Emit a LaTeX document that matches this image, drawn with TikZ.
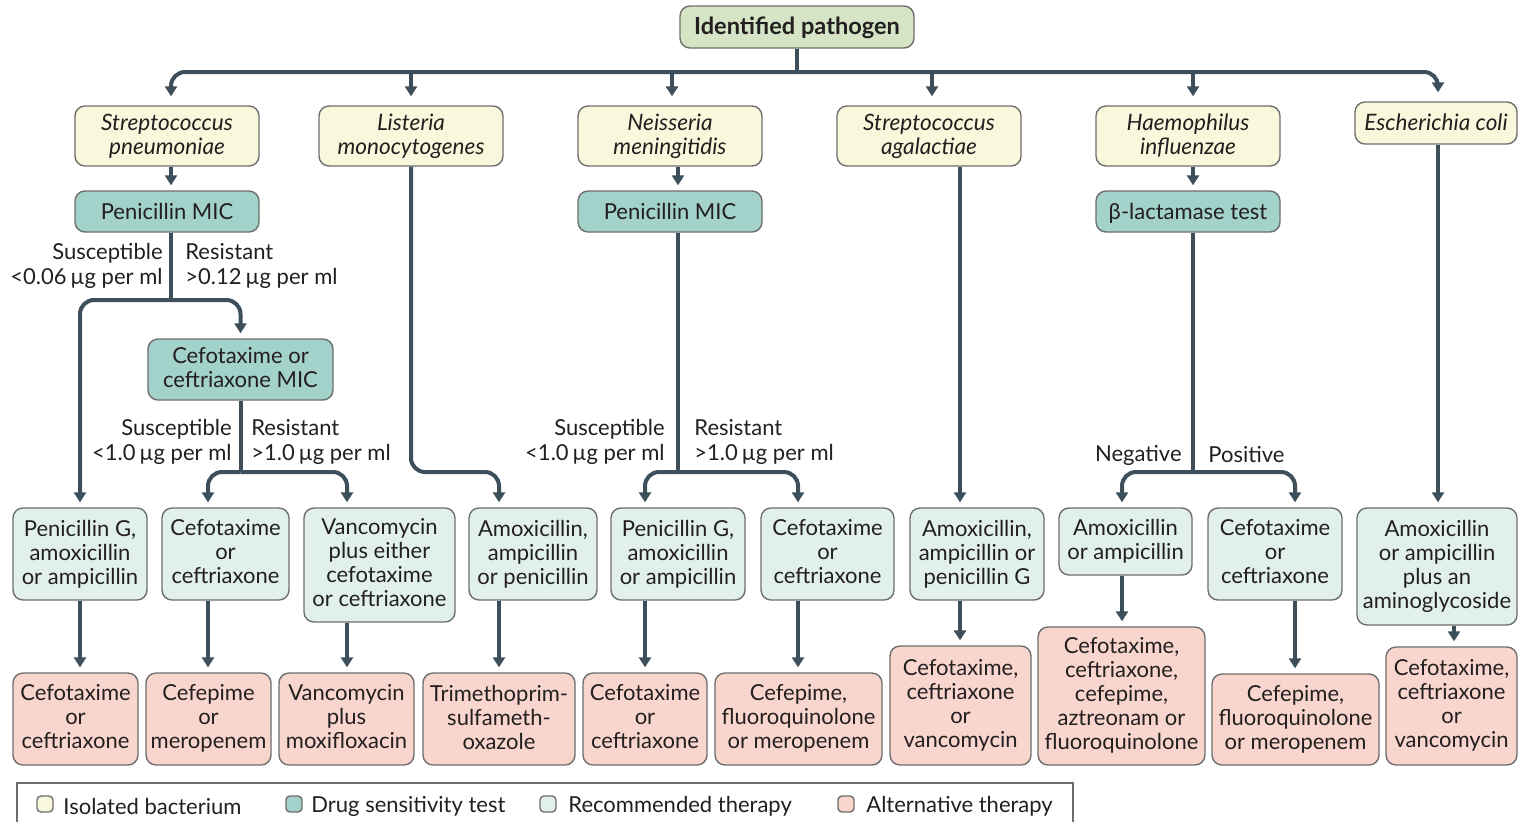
\documentclass[tikz,border=0pt]{standalone}
\usepackage{fontspec}
\setmainfont{Lato}
\usetikzlibrary{arrows.meta}
\definecolor{isoY}{HTML}{FAF8DC}
\definecolor{testT}{HTML}{A2D2CA}
\definecolor{recL}{HTML}{E1F0EC}
\definecolor{altP}{HTML}{F9D6CD}
\definecolor{rootG}{HTML}{D6E4C6}
\definecolor{lineC}{HTML}{3D4F5B}
\definecolor{bord}{HTML}{6E6E6E}
\definecolor{txt}{HTML}{231F20}
\newcommand{\bodyfnt}{\fontsize{11}{12}\selectfont}
\newcommand{\mystrut}{\rule[-2.1pt]{0pt}{12pt}}
\tikzset{
  box/.style={draw=bord, line width=0.7pt, rounded corners=5pt, align=center, inner sep=0pt, text=txt, font=\bodyfnt,
    execute at begin node=\mystrut, execute at end node=\mystrut},
  rootbox/.style={box, fill=rootG, font=\fontsize{11.8}{13}\selectfont\bfseries},
  iso/.style={box, fill=isoY, font=\fontsize{11.3}{12}\selectfont\itshape},
  testbox/.style={box, fill=testT},
  rec/.style={box, fill=recL},
  alt/.style={box, fill=altP},
  conn/.style={draw=lineC, line width=2pt},
  arr/.style={conn, -{Triangle[width=6pt,length=5pt]}, shorten >=2.5pt},
  rc/.style={rounded corners=7pt},
  lbl/.style={inner sep=0pt, text=txt, font=\fontsize{11}{12.5}\selectfont},
  legsq/.style={draw=bord, line width=0.7pt, rounded corners=2pt, minimum width=8pt, minimum height=8pt, inner sep=0pt},
}
\begin{document}
\begin{tikzpicture}[x=0.5pt,y=-0.5pt]
\useasboundingbox (0,0) rectangle (1518,821);
\clip (0,0) rectangle (1518,821);
\fill[white] (0,0) rectangle (1518,821);

% root
\node[rootbox, minimum width=117pt, minimum height=21pt] (root) at (797,27) {Identified pathogen};

% row 1: isolated bacteria
\node[iso, minimum width=92pt, minimum height=30pt] (sp) at (167,136) {Streptococcus\\pneumoniae};
\node[iso, minimum width=92pt, minimum height=30pt] (lm) at (411,136) {Listeria\\monocytogenes};
\node[iso, minimum width=92pt, minimum height=30pt] (nm) at (670,136) {Neisseria\\meningitidis};
\node[iso, minimum width=92pt, minimum height=30pt] (sa) at (929,136) {Streptococcus\\agalactiae};
\node[iso, minimum width=92pt, minimum height=30pt] (hi) at (1188,136) {Haemophilus\\influenzae};
\node[iso, minimum width=81pt, minimum height=21pt] (ec) at (1436,123) {Escherichia coli};

% row 2: tests
\node[testbox, minimum width=92pt, minimum height=20.5pt] (pm1) at (167,211.5) {Penicillin MIC};
\node[testbox, minimum width=92pt, minimum height=20.5pt] (pm2) at (670,211.5) {Penicillin MIC};
\node[testbox, minimum width=92pt, minimum height=20.5pt] (bl) at (1188,211.5) {β-lactamase test};
\node[testbox, minimum width=92.5pt, minimum height=30.5pt] (cm) at (240.5,369.5) {Cefotaxime or\\ceftriaxone MIC};

% row 3: recommended
\node[rec, minimum width=67pt, minimum height=46pt] (r1) at (80,554) {Penicillin G,\\amoxicillin\\or ampicillin};
\node[rec, minimum width=63.5pt, minimum height=46pt] (r2) at (225.5,554) {Cefotaxime\\or\\ceftriaxone};
\node[rec, minimum width=75.5pt, minimum height=57pt] (r3) at (379.5,565) {Vancomycin\\plus either\\cefotaxime\\or ceftriaxone};
\node[rec, minimum width=64pt, minimum height=46pt] (r4) at (533,554) {Amoxicillin,\\ampicillin\\or penicillin};
\node[rec, minimum width=67pt, minimum height=46pt] (r5) at (678,554) {Penicillin G,\\amoxicillin\\or ampicillin};
\node[rec, minimum width=66.5pt, minimum height=46pt] (r6) at (827.5,554) {Cefotaxime\\or\\ceftriaxone};
\node[rec, minimum width=67pt, minimum height=46pt] (r7) at (977,554) {Amoxicillin,\\ampicillin or\\penicillin G};
\node[rec, minimum width=66.5pt, minimum height=33.5pt] (r8) at (1125.5,541.5) {Amoxicillin\\or ampicillin};
\node[rec, minimum width=67pt, minimum height=46pt] (r9) at (1275,554) {Cefotaxime\\or\\ceftriaxone};
\node[rec, minimum width=80pt, minimum height=58.5pt] (r10) at (1437,566.5) {Amoxicillin\\or ampicillin\\plus an\\aminoglycoside};

% row 4: alternative
\node[alt, minimum width=62.5pt, minimum height=46pt] (a1) at (75.5,719) {Cefotaxime\\or\\ceftriaxone};
\node[alt, minimum width=62.5pt, minimum height=46pt] (a2) at (208.5,719) {Cefepime\\or\\meropenem};
\node[alt, minimum width=67.5pt, minimum height=46pt] (a3) at (346.5,719) {Vancomycin\\plus\\moxifloxacin};
\node[alt, minimum width=76pt, minimum height=46pt] (a4) at (499,719) {Trimethoprim-\\sulfameth-\\oxazole};
\node[alt, minimum width=62pt, minimum height=46pt] (a5) at (645,719) {Cefotaxime\\or\\ceftriaxone};
\node[alt, minimum width=83.5pt, minimum height=46pt] (a6) at (798.5,719) {Cefepime,\\fluoroquinolone\\or meropenem};
\node[alt, minimum width=70.5pt, minimum height=59.5pt] (a7) at (960.5,705.5) {Cefotaxime,\\ceftriaxone\\or\\vancomycin};
\node[alt, minimum width=83.5pt, minimum height=69pt] (a8) at (1121.5,696) {Cefotaxime,\\ceftriaxone,\\cefepime,\\aztreonam or\\fluoroquinolone};
\node[alt, minimum width=83.5pt, minimum height=45.5pt] (a9) at (1295.5,719.5) {Cefepime,\\fluoroquinolone\\or meropenem};
\node[alt, minimum width=65.5pt, minimum height=59pt] (a10) at (1451.5,706) {Cefotaxime,\\ceftriaxone\\or\\vancomycin};

% vertical line positions
\coordinate (vSP) at (171,0);
\coordinate (vLM) at (411,0);
\coordinate (vNMa) at (672,0);
\coordinate (vNM) at (678,0);
\coordinate (vSAa) at (932,0);
\coordinate (vSA) at (960,0);
\coordinate (vHI) at (1193,0);
\coordinate (vEC) at (1438,0);
\coordinate (v80) at (80,0);
\coordinate (v208) at (208,0);
\coordinate (v347) at (347,0);
\coordinate (v499) at (499,0);
\coordinate (v645) at (645,0);
\coordinate (v798) at (798,0);
\coordinate (v1122) at (1122,0);
\coordinate (v1295) at (1295,0);
\coordinate (v1454) at (1454,0);

% split points
\coordinate (bus) at (797,72);
\coordinate (s1) at (171,300);
\coordinate (s2) at (240.5,472);
\coordinate (s3) at (678,472);
\coordinate (s4) at (1193,472);
\coordinate (lmb) at (499,472);

% top bus
\draw[conn] (root.south) -- (bus);
\draw[arr, rc, shorten >=4.5pt] (bus) -| (sp.north -| vSP);
\draw[arr, rc, shorten >=4.5pt] (bus) -| (ec.north -| vEC);
\draw[arr, shorten >=4.5pt] (bus -| vLM) -- (lm.north -| vLM);
\draw[arr, shorten >=4.5pt] (bus -| vNMa) -- (nm.north -| vNMa);
\draw[arr, shorten >=4.5pt] (bus -| vSAa) -- (sa.north -| vSAa);
\draw[arr, shorten >=4.5pt] (bus -| vHI) -- (hi.north -| vHI);

% S. pneumoniae
\draw[arr] (sp.south -| vSP) -- (pm1.north -| vSP);
\draw[conn] (pm1.south -| vSP) -- (s1);
\draw[arr, rc] (s1) -| (r1.north -| v80);
\draw[arr, rc] (s1) -| (cm.north);
\draw[conn] (cm.south) -- (s2);
\draw[arr, rc] (s2) -| (r2.north -| v208);
\draw[arr, rc] (s2) -| (r3.north -| v347);

% Listeria
\draw[arr, rc] (lm.south) |- (lmb) -- (r4.north -| v499);

% N. meningitidis
\draw[arr] (nm.south -| vNM) -- (pm2.north -| vNM);
\draw[conn] (pm2.south -| vNM) -- (s3);
\draw[arr, rc] (s3) -| (r5.north -| v645);
\draw[arr, rc] (s3) -| (r6.north -| v798);

% S. agalactiae
\draw[arr] (sa.south -| vSA) -- (r7.north -| vSA);

% H. influenzae
\draw[arr] (hi.south -| vHI) -- (bl.north -| vHI);
\draw[conn] (bl.south -| vHI) -- (s4);
\draw[arr, rc] (s4) -| (r8.north -| v1122);
\draw[arr, rc] (s4) -| (r9.north -| v1295);

% E. coli
\draw[arr] (ec.south -| vEC) -- (r10.north -| vEC);

% recommended -> alternative
\draw[arr] (r1.south -| v80) -- (a1.north -| v80);
\draw[arr] (r2.south -| v208) -- (a2.north -| v208);
\draw[arr] (r3.south -| v347) -- (a3.north -| v347);
\draw[arr] (r4.south -| v499) -- (a4.north -| v499);
\draw[arr] (r5.south -| v645) -- (a5.north -| v645);
\draw[arr] (r6.south -| v798) -- (a6.north -| v798);
\draw[arr] (r7.south -| vSA) -- (a7.north -| vSA);
\draw[arr] (r8.south -| v1122) -- (a8.north -| v1122);
\draw[arr] (r9.south -| v1295) -- (a9.north -| v1295);
\draw[arr] (r10.south -| v1454) -- (a10.north -| v1454);

% branch labels
\node[lbl, anchor=east, align=right] (l1s) at (163,266) {Susceptible\\<0.06\,µg per ml};
\node[lbl, anchor=west, align=left] (l1r) at (185,266) {Resistant\\>0.12\,µg per ml};
\node[lbl, anchor=east, align=right] (l2s) at (232,442) {Susceptible\\<1.0\,µg per ml};
\node[lbl, anchor=west, align=left] (l2r) at (251,442) {Resistant\\>1.0\,µg per ml};
\node[lbl, anchor=east, align=right] (l3s) at (665,442) {Susceptible\\<1.0\,µg per ml};
\node[lbl, anchor=west, align=left] (l3r) at (694,442) {Resistant\\>1.0\,µg per ml};
\node[lbl, anchor=east] (l4n) at (1182,455) {Negative};
\node[lbl, anchor=west] (l4p) at (1208,455) {Positive};

% legend
\draw[bord, line width=0.7pt] (17,783) rectangle (1073,850);
\node[legsq, fill=isoY] (k1) at (45,804) {};
\node[lbl, anchor=west] (t1) at (63,806) {Isolated bacterium};
\node[legsq, fill=testT] (k2) at (294,804) {};
\node[lbl, anchor=west] (t2) at (311,806) {Drug sensitivity test};
\node[legsq, fill=recL] (k3) at (548,804) {};
\node[lbl, anchor=west] (t3) at (568,806) {Recommended therapy};
\node[legsq, fill=altP] (k4) at (846,804) {};
\node[lbl, anchor=west] (t4) at (866,806) {Alternative therapy};
\end{tikzpicture}
\end{document}
